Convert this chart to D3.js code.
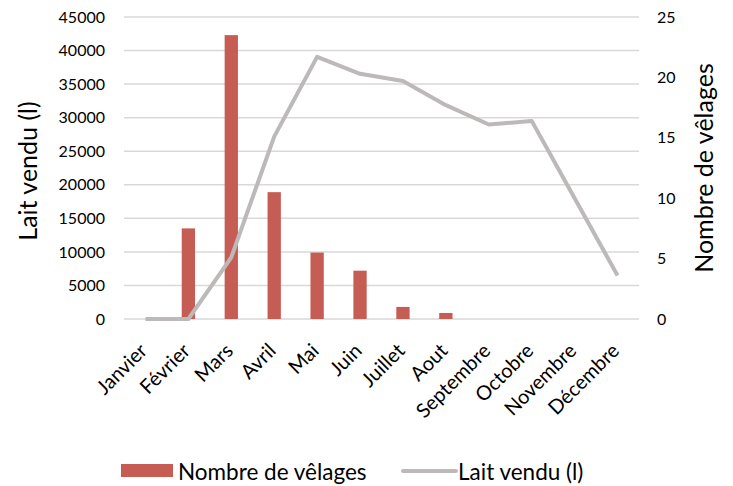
<!DOCTYPE html>
<html><head><meta charset="utf-8">
<script src="https://cdn.jsdelivr.net/npm/d3@7"></script>
<style>body{margin:0;background:#fff;} text{font-family:Lato,"Open Sans",sans-serif;fill:#000;}</style>
</head><body>
<svg id="c" width="733" height="486"></svg>
<script>
const months = ["Janvier","Février","Mars","Avril","Mai","Juin","Juillet","Aout","Septembre","Octobre","Novembre","Décembre"];
const velages = [0,13500,42300,18900,9900,7200,1800,900,0,0,0,0];
const laitVendu = [0,0,5.1,15.1,21.7,20.3,19.7,17.7,16.1,16.4,10.0,3.6];
const leftTicks = [0,5000,10000,15000,20000,25000,30000,35000,40000,45000];
const rightTicks = [0,5,10,15,20,25];

const svg = d3.select("#c");
const L=124, R=639, T=17, B=319;
const x = d3.scaleBand().domain(months).range([L,R]).paddingInner(0.69).paddingOuter(0.345);
const xc = d3.scalePoint().domain(months).range([L,R]).padding(0.5);
const yL = d3.scaleLinear().domain([0,45000]).range([B,T]);
const yR = d3.scaleLinear().domain([0,25]).range([B,T]);

// gridlines
svg.append("g").selectAll("line").data(leftTicks).join("line")
  .attr("x1",L).attr("x2",R).attr("y1",d=>yL(d)).attr("y2",d=>yL(d))
  .attr("stroke","#d9d9d9").attr("stroke-width",1.5);

// left axis
const ga = svg.append("g").attr("transform",`translate(${L},0)`)
  .call(d3.axisLeft(yL).tickValues(leftTicks).tickSize(0).tickPadding(19).tickFormat(d3.format("d")));
ga.select(".domain").remove();
ga.selectAll("text").style("font-size","16px").style("font-family","Lato");
// right axis
const gr = svg.append("g").attr("transform",`translate(${R},0)`)
  .call(d3.axisRight(yR).tickValues(rightTicks).tickSize(0).tickPadding(18));
gr.select(".domain").remove();
gr.selectAll("text").style("font-size","16px").style("font-family","Lato");

// bars
svg.append("g").selectAll("rect").data(months).join("rect")
  .attr("x",d=>x(d)).attr("width",x.bandwidth())
  .attr("y",(d,i)=>yL(velages[i])).attr("height",(d,i)=>B-yL(velages[i]))
  .attr("fill","#c55d54");

// line
const line = d3.line().x((d,i)=>xc(months[i])).y(d=>yR(d));
svg.append("path").datum(laitVendu).attr("d",line).attr("fill","none")
  .attr("stroke","#bdb9b8").attr("stroke-width",4).attr("stroke-linejoin","round");

// x labels
svg.append("g").selectAll("text").data(months).join("text")
  .attr("transform",d=>`translate(${xc(d)+3},${B+33}) rotate(-45)`)
  .attr("text-anchor","end")
  .style("font-size","20px").text(d=>d);

// axis titles
svg.append("text").attr("transform",`translate(37,171) rotate(-90)`)
  .attr("text-anchor","middle").style("font-size","25px").text("Lait vendu (l)");
svg.append("text").attr("transform",`translate(713,168) rotate(-90)`)
  .attr("text-anchor","middle").style("font-size","25px").text("Nombre de vêlages");

// legend
const lg = svg.append("g");
lg.append("rect").attr("x",121).attr("y",464).attr("width",52).attr("height",13).attr("fill","#c55d54");
lg.append("text").attr("x",178).attr("y",480).style("font-size","22.5px").text("Nombre de vêlages");
lg.append("line").attr("x1",403).attr("x2",456).attr("y1",471).attr("y2",471).attr("stroke","#bdb9b8").attr("stroke-width",4).attr("stroke-linecap","round");
lg.append("text").attr("x",458).attr("y",480).style("font-size","22.5px").text("Lait vendu (l)");
</script>
</body></html>
